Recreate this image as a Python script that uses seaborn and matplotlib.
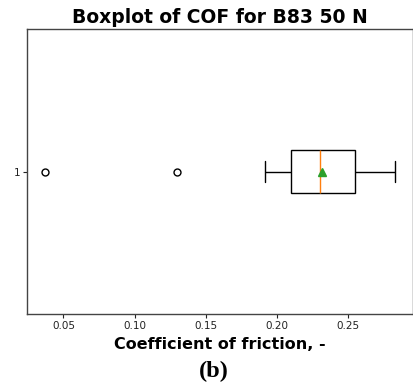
import numpy as np
import pandas as pd
import matplotlib
matplotlib.use("Agg")
import matplotlib.pyplot as plt
import seaborn as sns

# COF samples for B83 at 50 N (outliers, whiskers, quartiles, median)
cof_values = [
    0.0370, 0.1300, 0.1915,
    0.2050, 0.2070, 0.2085, 0.2092, 0.2097, 0.2100, 0.2102,
    0.2103,
    0.2210, 0.2235, 0.2255, 0.2270, 0.2282, 0.2290, 0.2297, 0.2301, 0.2305,
    0.2307,
    0.2420, 0.2455, 0.2480, 0.2500, 0.2515, 0.2525, 0.2535, 0.2542, 0.2548,
    0.2552,
    0.2580, 0.2605, 0.2630, 0.2655, 0.2680, 0.2700, 0.2720, 0.2745, 0.2780,
    0.2835,
]
group_labels = ["1"]
x_ticks = [0.05, 0.10, 0.15, 0.20, 0.25]

df = pd.DataFrame({"COF": cof_values, "group": group_labels * len(cof_values)})

sns.set_style("white")
plt.rcParams["font.family"] = ["DejaVu Sans"]
plt.rcParams["text.color"] = "black"
plt.rcParams["axes.labelcolor"] = "black"
plt.rcParams["xtick.color"] = "#222222"
plt.rcParams["ytick.color"] = "#222222"

fig = plt.figure(figsize=(4.14, 3.87), dpi=100)
ax = fig.add_axes([0.0664, 0.1879, 0.9305, 0.7371])

sns.boxplot(
    data=df, x="COF", y="group", orient="h", ax=ax,
    width=0.15, whis=1.5, showmeans=True,
    color="white", linecolor="black", linewidth=1.0,
    boxprops=dict(facecolor="white", edgecolor="black", linewidth=1.0),
    whiskerprops=dict(color="black", linewidth=1.0),
    capprops=dict(color="black", linewidth=1.0),
    medianprops=dict(color="#ff7f0e", linewidth=1.0),
    meanprops=dict(marker="^", markerfacecolor="#2ca02c", markeredgecolor="#2ca02c", markersize=6),
    flierprops=dict(marker="o", markerfacecolor="none", markeredgecolor="black", markersize=5),
)

ax.set_ylim(0.5, -0.5)
lo, hi = min(cof_values), max(cof_values)
pad = 0.05 * (hi - lo)
ax.set_xlim(lo - pad, hi + pad)
ax.set_xticks(x_ticks)
ax.set_xticklabels([f"{t:.2f}" for t in x_ticks])
ax.tick_params(axis="both", labelsize=7.5, length=3, width=0.8, bottom=True, left=True, pad=2)
for s in ax.spines.values():
    s.set_color("#444444")
    s.set_linewidth(1.0)

ax.set_ylabel("")
ax.set_xlabel("Coefficient of friction, -", fontsize=11.5, fontweight="bold", labelpad=4, color="black")
ax.set_title("Boxplot of COF for B83 50 N", fontsize=13.5, fontweight="bold", pad=4, color="black")

fig.text(0.517, 0.012, "(b)", ha="center", va="bottom", fontsize=17.5, fontweight="bold",
         family=["Liberation Serif", "DejaVu Serif"], color="black")

fig.savefig("out.png", dpi=100)
